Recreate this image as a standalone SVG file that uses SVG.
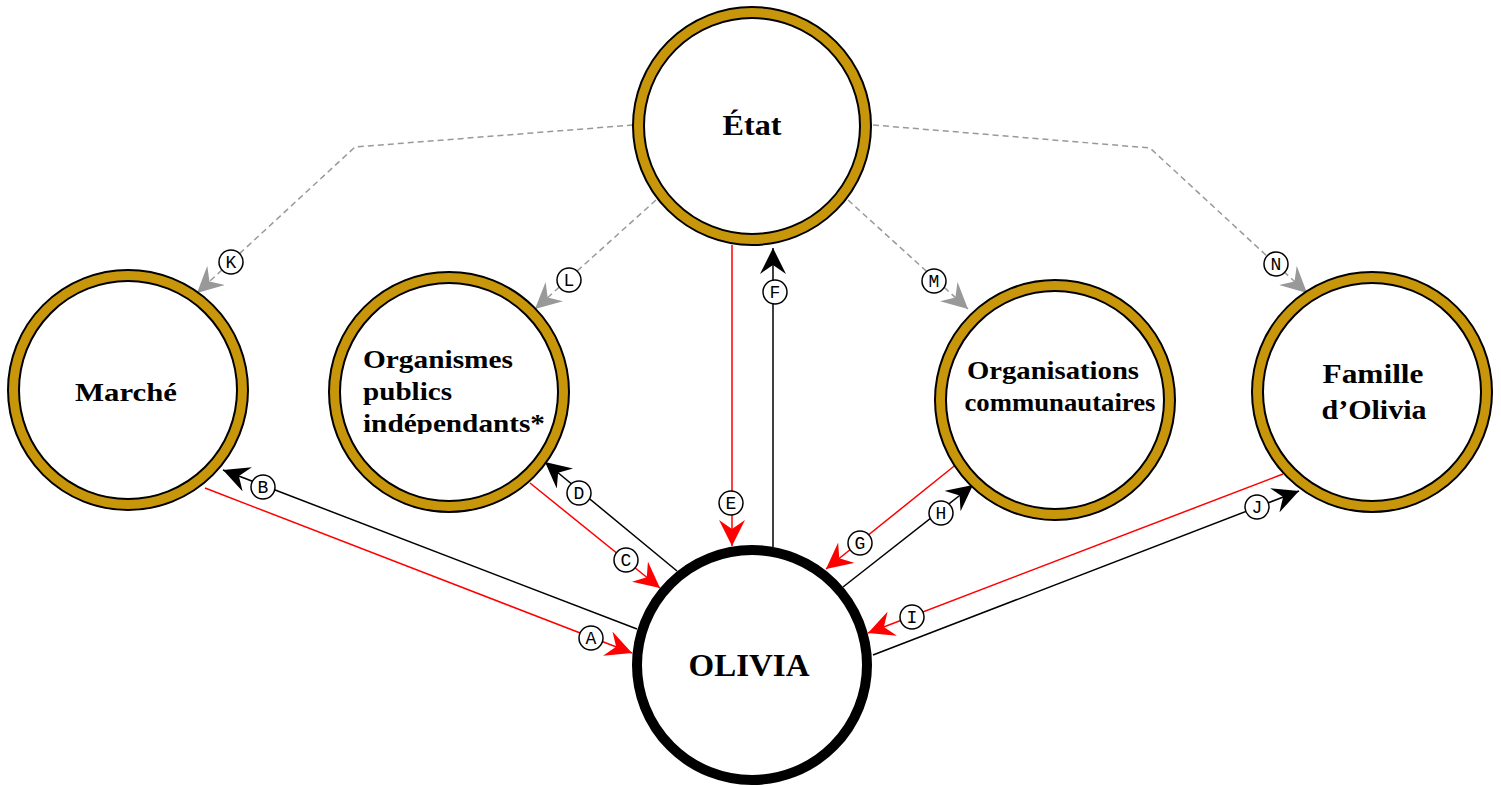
<svg xmlns="http://www.w3.org/2000/svg" width="1501" height="786" viewBox="0 0 1501 786">
<style>
.ring{fill:#c8960a;stroke:#000;stroke-width:2}
.inner{fill:#fff;stroke:#000;stroke-width:2}
.nt{font-family:"Liberation Serif","Times New Roman",serif;font-weight:bold;fill:#000}
.red{stroke:#ff0000;stroke-width:1.5;fill:none}
.blk{stroke:#000;stroke-width:1.5;fill:none}
.gry{stroke:#999;stroke-width:1.5;fill:none;stroke-dasharray:6 4}
.lc{fill:#fff;stroke:#000;stroke-width:1.5}
.lt{font-family:"Liberation Mono","Courier New",monospace;font-size:18px;fill:#000;text-anchor:middle}
</style>
<defs>
<marker id="ar" viewBox="0 0 26 26" refX="26" refY="13" markerWidth="26" markerHeight="26" markerUnits="userSpaceOnUse" orient="auto"><path d="M0,0 L26,13 L0,26 L9,13 z" fill="#ff0000"/></marker>
<marker id="ab" viewBox="0 0 26 26" refX="26" refY="13" markerWidth="26" markerHeight="26" markerUnits="userSpaceOnUse" orient="auto"><path d="M0,0 L26,13 L0,26 L9,13 z" fill="#000"/></marker>
<marker id="ag" viewBox="0 0 26 26" refX="26" refY="13" markerWidth="26" markerHeight="26" markerUnits="userSpaceOnUse" orient="auto"><path d="M0,0 L26,13 L0,26 L9,13 z" fill="#999"/></marker>
<clipPath id="clipOrg"><rect x="330" y="330" width="240" height="104"/></clipPath>
</defs>
<g id="connectors">
<polyline class="gry" points="633,125 355,147 197,293" marker-end="url(#ag)"/>
<line class="gry" x1="656" y1="200" x2="535" y2="309" marker-end="url(#ag)"/>
<line class="gry" x1="848" y1="200" x2="968" y2="309" marker-end="url(#ag)"/>
<polyline class="gry" points="873,125 1150,148 1307,293" marker-end="url(#ag)"/>
<line class="red" x1="205" y1="488" x2="632" y2="653" marker-end="url(#ar)"/>
<line class="blk" x1="637" y1="629" x2="223" y2="470" marker-end="url(#ab)"/>
<line class="red" x1="530" y1="483" x2="660" y2="588" marker-end="url(#ar)"/>
<line class="blk" x1="677" y1="571" x2="545" y2="462" marker-end="url(#ab)"/>
<line class="red" x1="732" y1="245" x2="732" y2="546" marker-end="url(#ar)"/>
<line class="blk" x1="773" y1="547" x2="773" y2="248" marker-end="url(#ab)"/>
<line class="red" x1="958" y1="463" x2="826" y2="569" marker-end="url(#ar)"/>
<line class="blk" x1="843" y1="587" x2="973" y2="485" marker-end="url(#ab)"/>
<line class="red" x1="1283" y1="474" x2="868" y2="633" marker-end="url(#ar)"/>
<line class="blk" x1="873" y1="655" x2="1299" y2="491" marker-end="url(#ab)"/>
<g id="labels">
<circle class="lc" cx="591" cy="638" r="12"/><text class="lt" x="591" y="644">A</text>
<circle class="lc" cx="263" cy="487" r="12"/><text class="lt" x="263" y="493">B</text>
<circle class="lc" cx="626" cy="560" r="12"/><text class="lt" x="626" y="566">C</text>
<circle class="lc" cx="579" cy="493" r="12"/><text class="lt" x="579" y="499">D</text>
<circle class="lc" cx="731" cy="503" r="12"/><text class="lt" x="731" y="509">E</text>
<circle class="lc" cx="775" cy="292" r="12"/><text class="lt" x="775" y="298">F</text>
<circle class="lc" cx="860" cy="543" r="12"/><text class="lt" x="860" y="549">G</text>
<circle class="lc" cx="941" cy="513" r="12"/><text class="lt" x="941" y="519">H</text>
<circle class="lc" cx="912" cy="617" r="12"/><text class="lt" x="912" y="623">I</text>
<circle class="lc" cx="1257" cy="507" r="12"/><text class="lt" x="1257" y="513">J</text>
<circle class="lc" cx="231" cy="262" r="12"/><text class="lt" x="231" y="268">K</text>
<circle class="lc" cx="569" cy="280" r="12"/><text class="lt" x="569" y="286">L</text>
<circle class="lc" cx="934" cy="281" r="12"/><text class="lt" x="934" y="287">M</text>
<circle class="lc" cx="1276" cy="264" r="12"/><text class="lt" x="1276" y="270">N</text>
</g>
</g>
<g id="etat">
<circle class="ring" cx="752" cy="126" r="119"/>
<circle class="inner" cx="752" cy="126" r="108"/>
<text class="nt" x="752" y="135" font-size="30" text-anchor="middle" textLength="59" lengthAdjust="spacingAndGlyphs">État</text>
</g>
<g id="marche">
<circle class="ring" cx="128" cy="390" r="120"/>
<circle class="inner" cx="128" cy="390" r="109"/>
<text class="nt" x="126" y="401" font-size="26" text-anchor="middle" textLength="102" lengthAdjust="spacingAndGlyphs">Marché</text>
</g>
<g id="organismes">
<circle class="ring" cx="449" cy="392" r="120"/>
<circle class="inner" cx="449" cy="392" r="109"/>
<g clip-path="url(#clipOrg)">
<text class="nt" x="363" y="368" font-size="25" textLength="150" lengthAdjust="spacingAndGlyphs">Organismes</text>
<text class="nt" x="363" y="400" font-size="25" textLength="89" lengthAdjust="spacingAndGlyphs">publics</text>
<text class="nt" x="363" y="432" font-size="25" textLength="182" lengthAdjust="spacingAndGlyphs">indépendants*</text>
</g>
</g>
<g id="organisations">
<circle class="ring" cx="1055" cy="400" r="120"/>
<circle class="inner" cx="1055" cy="400" r="109"/>
<text class="nt" x="1053" y="379" font-size="25" text-anchor="middle" textLength="172" lengthAdjust="spacingAndGlyphs">Organisations</text>
<text class="nt" x="1060" y="411" font-size="25" text-anchor="middle" textLength="191" lengthAdjust="spacingAndGlyphs">communautaires</text>
</g>
<g id="famille">
<circle class="ring" cx="1372" cy="392" r="120"/>
<circle class="inner" cx="1372" cy="392" r="109"/>
<text class="nt" x="1373" y="383" font-size="27" text-anchor="middle" textLength="101" lengthAdjust="spacingAndGlyphs">Famille</text>
<text class="nt" x="1374" y="419" font-size="27" text-anchor="middle" textLength="105" lengthAdjust="spacingAndGlyphs">d’Olivia</text>
</g>
<g id="olivia">
<circle cx="752" cy="665" r="115" fill="#fff" stroke="#000" stroke-width="10"/>
<text class="nt" x="749" y="676" font-size="32" text-anchor="middle" textLength="121" lengthAdjust="spacingAndGlyphs">OLIVIA</text>
</g>
</svg>
